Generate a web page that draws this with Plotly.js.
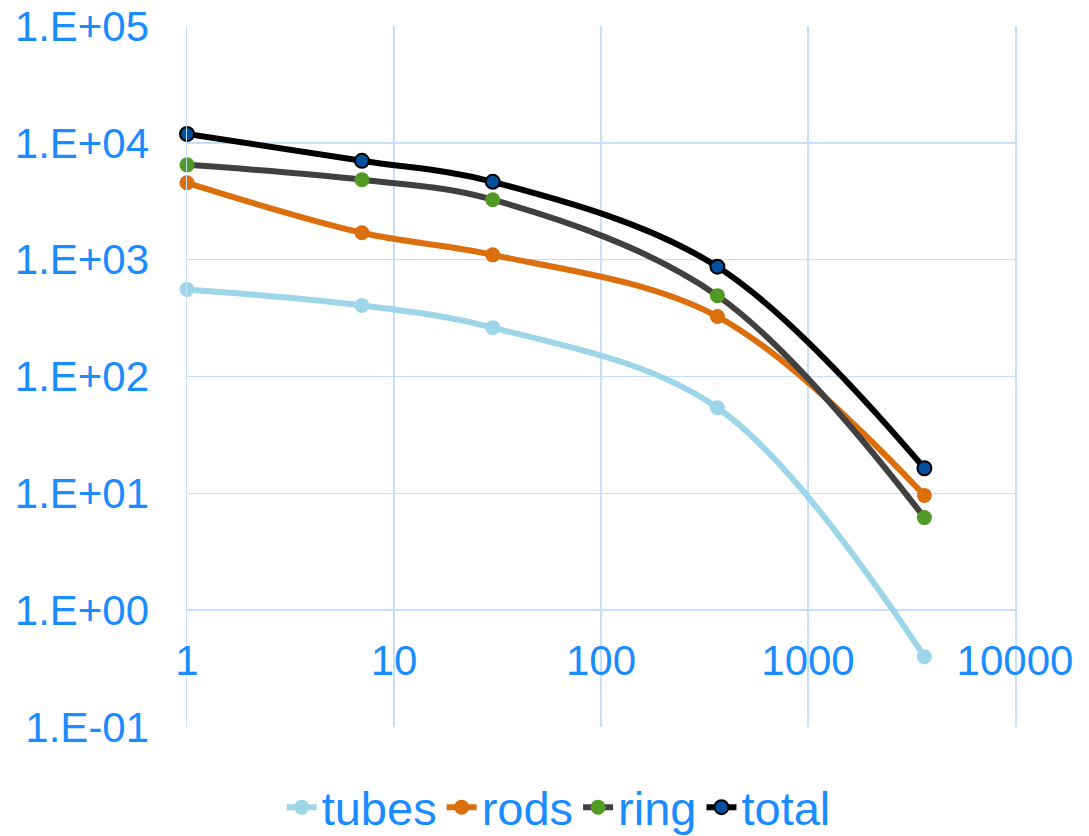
<!DOCTYPE html>
<html>
<head>
<meta charset="utf-8">
<script src="https://cdn.plot.ly/plotly-3.0.1.min.js"></script>
<style>html,body{margin:0;padding:0;background:#fff;}#chart{width:1089px;height:836px;}</style>
</head>
<body>
<div id="chart"></div>
<script>
const days = [1, 7, 30, 365, 3650];
const tubes = [555, 405, 262, 54, 0.40];
const rods = [4550, 1700, 1100, 326, 9.6];
const ring = [6480, 4830, 3260, 492, 6.2];
const total = [11900, 7020, 4640, 871, 16.4];
const xTickVals = [1, 10, 100, 1000, 10000];
const xTickText = ['1', '10', '100', '1000', '10000'];
const yTickVals = [0.1, 1, 10, 100, 1000, 10000, 100000];
const yTickText = ['1.E-01', '1.E+00', '1.E+01', '1.E+02', '1.E+03', '1.E+04', '1.E+05'];

const txtColor = '#1a8cff';
const gridColor = '#c5e0fb';
const font = 'Liberation Sans, Arial, sans-serif';

function tr(name, y, lineColor, markerColor, outline) {
  return {
    x: days, y: y, name: name, type: 'scatter', mode: 'lines+markers',
    line: {color: lineColor, width: 6, shape: 'spline', smoothing: 1},
    marker: {color: markerColor, size: outline ? 14 : 15,
      line: {color: outline ? '#000' : markerColor, width: outline ? 2 : 0}},
    cliponaxis: false
  };
}

const data = [
  tr('tubes', tubes, '#9ed6e9', '#9ed6e9', false),
  tr('rods', rods, '#dc6f0d', '#dc6f0d', false),
  tr('ring', ring, '#404040', '#519a26', false),
  tr('total', total, '#000000', '#00509e', true)
];

const layout = {
  width: 1089, height: 836,
  margin: {l: 187, r: 74, t: 26, b: 109},
  paper_bgcolor: '#fff', plot_bgcolor: '#fff',
  font: {family: font, color: txtColor, size: 42},
  showlegend: true,
  legend: {orientation: 'h', x: 0.513, xanchor: 'center', xref: 'container',
    y: 0.034, yanchor: 'middle', yref: 'container', font: {size: 47, color: txtColor},
    itemwidth: 30, tracegroupgap: 0},
  xaxis: {
    type: 'log', range: [0, 4], tickvals: xTickVals, ticktext: xTickText,
    showgrid: true, gridcolor: gridColor, gridwidth: 1.5,
    zeroline: false, showline: false, automargin: false, tickangle: 0,
    anchor: 'free', position: 1/6,
    ticks: 'outside', ticklen: 13, tickcolor: 'rgba(0,0,0,0)',
    tickfont: {size: 42, color: txtColor}
  },
  yaxis: {
    type: 'log', range: [-1, 5], tickvals: yTickVals, ticktext: yTickText,
    showgrid: true, gridcolor: gridColor, gridwidth: 1.5, automargin: false,
    zeroline: false, showline: true, linecolor: gridColor, linewidth: 1.5, mirror: true,
    ticks: 'outside', ticklen: 28, tickcolor: 'rgba(0,0,0,0)',
    tickfont: {size: 42, color: txtColor}
  }
};

Plotly.newPlot('chart', data, layout, {displayModeBar: false, staticPlot: true});
</script>
</body>
</html>
